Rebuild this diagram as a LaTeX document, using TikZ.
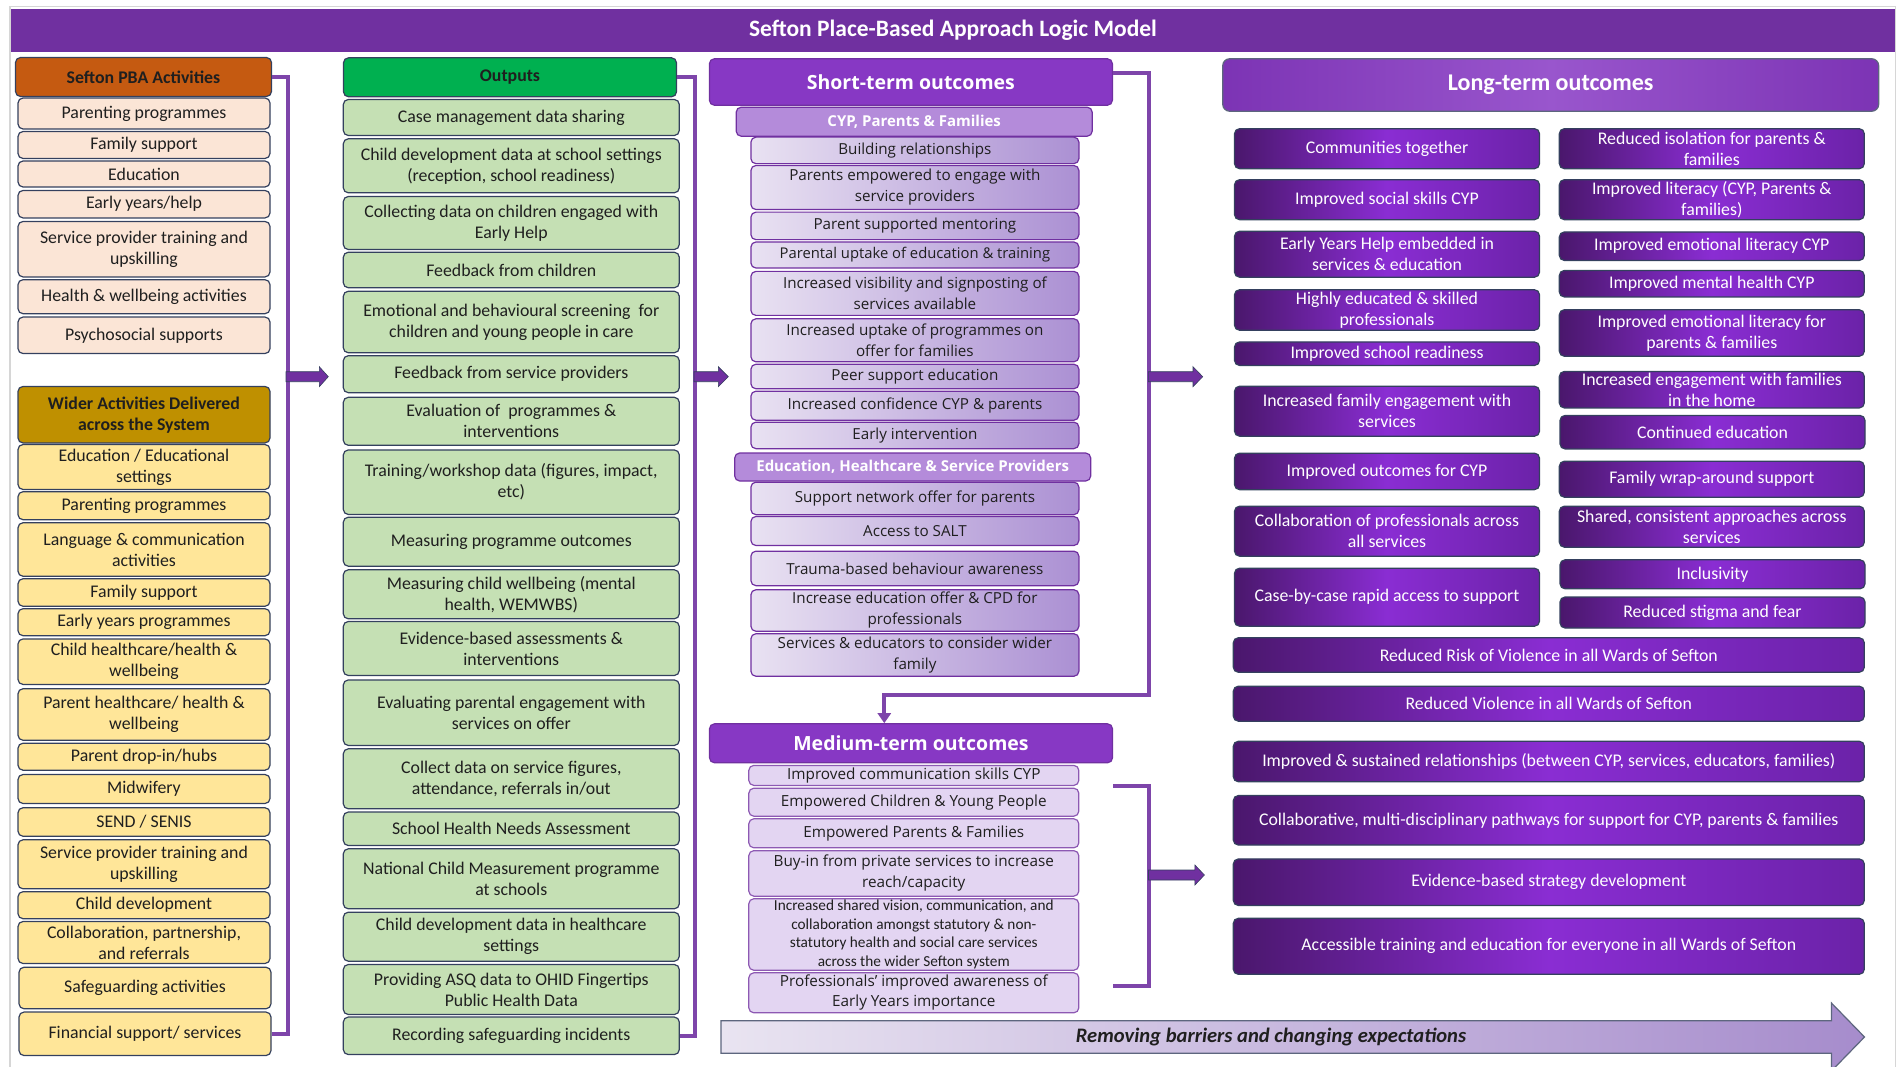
\documentclass[tikz,border=0pt]{standalone}
\usepackage{fontspec}
\setmainfont{Carlito}
\newfontfamily\segoe{Open Sans}
\usepackage{xcolor}
\usepackage{tikz}
\usetikzlibrary{calc}
\usetikzlibrary{arrows.meta}
\definecolor{PurpleSefton}{HTML}{7030A0}
\definecolor{LineSefton}{HTML}{34405E}
\definecolor{FrameSefton}{HTML}{D6D6D6}
\definecolor{OrangeSefton}{HTML}{C55A11}
\definecolor{PeachSefton}{HTML}{FBE5D6}
\definecolor{GoldSefton}{HTML}{BF9000}
\definecolor{SandSefton}{HTML}{FFE699}
\definecolor{GreenSefton}{HTML}{00B050}
\definecolor{MintSefton}{HTML}{C5E0B4}
\definecolor{VioletSefton}{HTML}{8738C4}
\definecolor{LilacSefton}{HTML}{B48BDA}
\definecolor{PaleSefton}{HTML}{E9E2F2}
\definecolor{MauveSefton}{HTML}{AB90D3}
\definecolor{LavenderSefton}{HTML}{E3D5F2}
\definecolor{PlumSefton}{HTML}{4A176C}
\definecolor{BrightSefton}{HTML}{8A2DD3}
\definecolor{GrapeSefton}{HTML}{6B22A8}
\definecolor{ArrowLeft}{HTML}{E9E4F1}
\definecolor{ArrowRight}{HTML}{A68CCC}

\begin{document}
\begin{tikzpicture}[x = 1pt, y = -1pt,
  box/.style = {draw = LineSefton, line width = 1.2pt, rounded corners = 5pt,
    inner sep = 0pt, align = center, text = black!88,
    font = \fontsize{17.8}{21}\selectfont},
  actbox/.style = {box, fill = PeachSefton, minimum width = 252pt},
  widebox/.style = {box, fill = SandSefton, minimum width = 252pt},
  outbox/.style = {box, fill = MintSefton, minimum width = 336pt},
  stbox/.style = {box, draw = PurpleSefton, left color = PaleSefton,
    right color = MauveSefton, minimum width = 328pt,
    font = \segoe\fontsize{15.2}{21}\selectfont},
  mdbox/.style = {box, draw = PurpleSefton!80, fill = LavenderSefton,
    minimum width = 330pt, font = \segoe\fontsize{15.3}{21}\selectfont},
  ltbox/.style = {box, text = white, left color = PlumSefton,
    right color = GrapeSefton, middle color = BrightSefton},
  headbox/.style = {box, font = \bfseries\fontsize{17.8}{21}\selectfont},
  purplehead/.style = {box, draw = PurpleSefton, fill = VioletSefton,
    text = white, font = \segoe\bfseries\fontsize{19.5}{23}\selectfont},
  subhead/.style = {box, draw = PurpleSefton, fill = LilacSefton,
    text = white, font = \segoe\bfseries\fontsize{15}{18}\selectfont},
  brackline/.style = {draw = PurpleSefton!90!white, line width = 4pt},
  blockarrow/.style = {fill = PurpleSefton, draw = LineSefton, line width = .6pt}]

  \useasboundingbox (0,0) rectangle (1901,1067);

  \draw[FrameSefton, line width = 1.5pt] (9.8,1075) |- (1895.3,6.7) -- (1895.3,1075);

  \node[fill = PurpleSefton, minimum width = 1884pt, minimum height = 42.4pt,
    inner sep = 0pt, text = white, font = \bfseries\fontsize{23.5}{27}\selectfont]
    (title) at (953,30.5) {Sefton Place-Based Approach Logic Model};

  \node[headbox, fill = OrangeSefton, minimum width = 256pt, minimum height = 39pt] (a0) at (143.5,77) {Sefton PBA Activities};
  \node[actbox, minimum height = 31pt] (a1) at (144,113.5) {Parenting programmes};
  \node[actbox, minimum height = 27pt] (a2) at (144,145) {Family support};
  \node[actbox, minimum height = 26pt] (a3) at (144,174) {Education};
  \node[actbox, minimum height = 27.5pt] (a4) at (144,204.2) {Early years/help};
  \node[actbox, minimum height = 55.5pt] (a5) at (144,249.2) {Service provider training and\\upskilling};
  \node[actbox, minimum height = 34pt] (a6) at (144,296.7) {Health \& wellbeing activities};
  \node[actbox, minimum height = 36.5pt] (a7) at (144,335.3) {Psychosocial supports};

  \node[headbox, fill = GoldSefton, minimum width = 252pt, minimum height = 56.5pt] (w0) at (144,414.7) {Wider Activities Delivered\\across the System};
  \node[widebox, minimum height = 45pt] (w1) at (144,467) {Education / Educational\\settings};
  \node[widebox, minimum height = 28pt] (w2) at (144,505.7) {Parenting programmes};
  \node[widebox, minimum height = 53.5pt] (w3) at (144,549.5) {Language \& communication\\activities};
  \node[widebox, minimum height = 27.5pt] (w4) at (144,592.5) {Family support};
  \node[widebox, minimum height = 27pt] (w5) at (144,622.2) {Early years programmes};
  \node[widebox, minimum height = 45.5pt] (w6) at (144,661.7) {Child healthcare/health \&\\wellbeing};
  \node[widebox, minimum height = 51.5pt] (w7) at (144,714.5) {Parent healthcare/ health \&\\wellbeing};
  \node[widebox, minimum height = 27pt] (w8) at (144,756.7) {Parent drop-in/hubs};
  \node[widebox, minimum height = 29pt] (w9) at (144,789) {Midwifery};
  \node[widebox, minimum height = 28.5pt] (w10) at (144,822) {SEND / SENIS};
  \node[widebox, minimum height = 49pt] (w11) at (144,864.3) {Service provider training and\\upskilling};
  \node[widebox, minimum height = 27pt] (w12) at (144,905.2) {Child development};
  \node[widebox, minimum height = 42pt] (w13) at (144,942.5) {Collaboration, partnership,\\and referrals};
  \node[widebox, minimum height = 41.5pt] (w14) at (145,988) {Safeguarding activities};
  \node[widebox, minimum height = 43.5pt] (w15) at (145,1033.8) {Financial support/ services};

  \node[headbox, fill = GreenSefton, minimum width = 333pt, minimum height = 39pt] (o0) at (510,77.3) {Outputs};
  \node[outbox, minimum height = 36pt] (o1) at (511.3,117.5) {Case management data sharing};
  \node[outbox, minimum height = 54pt] (o2) at (511.3,165.8) {Child development data at school settings\\(reception, school readiness)};
  \node[outbox, minimum height = 53pt] (o3) at (511.3,223) {Collecting data on children engaged with\\Early Help};
  \node[outbox, minimum height = 35.5pt] (o4) at (511.3,270) {Feedback from children};
  \node[outbox, minimum height = 61.5pt] (o5) at (511.3,322) {Emotional and behavioural screening ~for\\children and young people in care};
  \node[outbox, minimum height = 37pt] (o6) at (511.3,374.2) {Feedback from service providers};
  \node[outbox, minimum height = 48pt] (o7) at (511.3,421.3) {Evaluation of ~programmes \&\\interventions};
  \node[outbox, minimum height = 64.5pt] (o8) at (511.3,482.2) {Training/workshop data (figures, impact,\\etc)};
  \node[outbox, minimum height = 49pt] (o9) at (511.3,541.7) {Measuring programme outcomes};
  \node[outbox, minimum height = 49pt] (o10) at (511.3,594.3) {Measuring child wellbeing (mental\\health, WEMWBS)};
  \node[outbox, minimum height = 54pt] (o11) at (511.3,648.5) {Evidence-based assessments \&\\interventions};
  \node[outbox, minimum height = 65.5pt] (o12) at (511.3,712.7) {Evaluating parental engagement with\\services on offer};
  \node[outbox, minimum height = 60pt] (o13) at (511.3,778.8) {Collect data on service figures,\\attendance, referrals in/out};
  \node[outbox, minimum height = 33.5pt] (o14) at (511.3,828.8) {School Health Needs Assessment};
  \node[outbox, minimum height = 60pt] (o15) at (511.3,878.8) {National Child Measurement programme\\at schools};
  \node[outbox, minimum height = 49pt] (o16) at (511.3,936.7) {Child development data in healthcare\\settings};
  \node[outbox, minimum height = 50pt] (o17) at (511.3,989.5) {Providing ASQ data to OHID Fingertips\\Public Health Data};
  \node[outbox, minimum height = 37.5pt] (o18) at (511.3,1035.8) {Recording safeguarding incidents};

  \node[purplehead, minimum width = 403pt, minimum height = 46.5pt] (sthead) at (910.9,82) {Short-term outcomes};
  \node[subhead, minimum width = 356pt, minimum height = 29pt] (s0) at (914.2,121.7) {CYP, Parents \& Families};
  \node[stbox, minimum height = 26.5pt] (s1) at (914.9,150.4) {Building relationships};
  \node[stbox, minimum height = 44pt] (s2) at (914.9,187.5) {Parents empowered to engage with\\service providers};
  \node[stbox, minimum height = 27.5pt] (s3) at (914.9,225.9) {Parent supported mentoring};
  \node[stbox, minimum height = 26pt, font = \segoe\fontsize{14.8}{21}\selectfont] (s4) at (914.9,255) {Parental uptake of education \& training};
  \node[stbox, minimum height = 44pt] (s5) at (914.9,293.4) {Increased visibility and signposting of\\services available};
  \node[stbox, minimum height = 43pt] (s6) at (914.9,340.3) {Increased uptake of programmes on\\offer for families};
  \node[stbox, minimum height = 24.5pt] (s7) at (914.9,376.5) {Peer support education};
  \node[stbox, minimum height = 29pt] (s8) at (914.9,405.7) {Increased confidence CYP \& parents};
  \node[stbox, minimum height = 26.5pt] (s9) at (914.9,435.4) {Early intervention};
  \node[subhead, minimum width = 356pt, minimum height = 28pt] (e0) at (912.7,467) {Education, Healthcare \& Service Providers};
  \node[stbox, minimum height = 32.5pt] (e1) at (914.9,498.4) {Support network offer for parents};
  \node[stbox, minimum height = 29pt] (e2) at (914.9,531) {Access to SALT};
  \node[stbox, minimum height = 34.5pt] (e3) at (914.9,568.4) {Trauma-based behaviour awareness};
  \node[stbox, minimum height = 41.5pt] (e4) at (914.9,610.5) {Increase education offer \& CPD for\\professionals};
  \node[stbox, minimum height = 42.5pt] (e5) at (914.9,655) {Services \& educators to consider wider\\family};

  \node[purplehead, minimum width = 403pt, minimum height = 39pt] (mdhead) at (911,743.3) {Medium-term outcomes};
  \node[mdbox, minimum height = 20pt] (m1) at (913.8,775.4) {Improved communication skills CYP};
  \node[mdbox, minimum height = 28pt] (m2) at (913.8,802.2) {Empowered Children \& Young People};
  \node[mdbox, minimum height = 29pt] (m3) at (913.8,833.3) {Empowered Parents \& Families};
  \node[mdbox, minimum height = 45.5pt] (m4) at (913.8,873.4) {Buy-in from private services to increase\\reach/capacity};
  \node[mdbox, minimum height = 71.5pt, font = \fontsize{15.3}{18.5}\selectfont] (m5) at (913.8,934.5) {Increased shared vision, communication, and\\collaboration amongst statutory \& non-\\statutory health and social care services\\across the wider Sefton system};
  \node[mdbox, minimum height = 40pt, font = \segoe\fontsize{15.3}{20}\selectfont] (m6) at (913.8,992.8) {Professionals’ improved awareness of\\Early Years importance};

  \node[box, draw = LineSefton!80, left color = VioletSefton!92!black, right color = VioletSefton!92!black, middle color = VioletSefton!85!white, text = white, minimum width = 656pt, minimum height = 52.5pt, rounded corners = 7pt, font = \bfseries\fontsize{24}{28}\selectfont] (lthead) at (1550.7,85) {Long-term outcomes};
  \node[ltbox, minimum width = 305pt, minimum height = 40pt] (l1) at (1387,148.7) {Communities together};
  \node[ltbox, minimum width = 305pt, minimum height = 40pt] (l2) at (1387,199.7) {Improved social skills CYP};
  \node[ltbox, minimum width = 305pt, minimum height = 46pt] (l3) at (1387,254.2) {Early Years Help embedded in\\services \& education};
  \node[ltbox, minimum width = 305pt, minimum height = 40.5pt] (l4) at (1387,310) {Highly educated \& skilled\\professionals};
  \node[ltbox, minimum width = 305pt, minimum height = 23.5pt] (l5) at (1387,353.7) {Improved school readiness};
  \node[ltbox, minimum width = 305pt, minimum height = 50pt] (l6) at (1387,411.2) {Increased family engagement with\\services};
  \node[ltbox, minimum width = 305pt, minimum height = 36.5pt] (l7) at (1387,471.4) {Improved outcomes for CYP};
  \node[ltbox, minimum width = 305pt, minimum height = 50pt] (l8) at (1387,531.2) {Collaboration of professionals across\\all services};
  \node[ltbox, minimum width = 305pt, minimum height = 58pt] (l9) at (1387,597.2) {Case-by-case rapid access to support};
  \node[ltbox, minimum width = 305pt, minimum height = 40pt] (r1) at (1711.8,148.7) {Reduced isolation for parents \&\\families};
  \node[ltbox, minimum width = 305pt, minimum height = 40pt] (r2) at (1711.8,199.7) {Improved literacy (CYP, Parents \&\\families)};
  \node[ltbox, minimum width = 305pt, minimum height = 28.5pt] (r3) at (1711.8,246.2) {Improved emotional literacy CYP};
  \node[ltbox, minimum width = 305pt, minimum height = 26.5pt] (r4) at (1711.8,283.7) {Improved mental health CYP};
  \node[ltbox, minimum width = 305pt, minimum height = 46.5pt] (r5) at (1711.8,333) {Improved emotional literacy for\\parents \& families};
  \node[ltbox, minimum width = 305pt, minimum height = 36.5pt] (r6) at (1711.8,389.7) {Increased engagement with families\\in the home};
  \node[ltbox, minimum width = 305pt, minimum height = 33.5pt] (r7) at (1712.5,432.2) {Continued education};
  \node[ltbox, minimum width = 305pt, minimum height = 36pt] (r8) at (1711.8,479.2) {Family wrap-around support};
  \node[ltbox, minimum width = 305pt, minimum height = 41pt] (r9) at (1711.8,526.7) {Shared, consistent approaches across\\services};
  \node[ltbox, minimum width = 305pt, minimum height = 29pt] (r10) at (1712.5,574.3) {Inclusivity};
  \node[ltbox, minimum width = 305pt, minimum height = 31pt] (r11) at (1712.5,612.5) {Reduced stigma and fear};
  \node[ltbox, minimum width = 631pt, minimum height = 34.5pt] (f1) at (1548.8,655) {Reduced Risk of Violence in all Wards of Sefton};
  \node[ltbox, minimum width = 631pt, minimum height = 35pt] (f2) at (1548.8,703.7) {Reduced Violence in all Wards of Sefton};
  \node[ltbox, minimum width = 631pt, minimum height = 40.5pt] (f3) at (1548.8,761.5) {Improved \& sustained relationships (between CYP, services, educators, families)};
  \node[ltbox, minimum width = 631pt, minimum height = 49.5pt] (f4) at (1548.8,820.3) {Collaborative, multi-disciplinary pathways for support for CYP, parents \& families};
  \node[ltbox, minimum width = 631pt, minimum height = 46.5pt] (f5) at (1548.8,882.2) {Evidence-based strategy development};
  \node[ltbox, minimum width = 631pt, minimum height = 56pt] (f6) at (1548.8,946.3) {Accessible training and education for everyone in all Wards of Sefton};

  \draw[brackline] (a0.east) -- ++(16,0) |- (w15.east);
  \draw[brackline] (o0.east) -- ++(17.5,0) |- (o18.east);
  \draw[brackline, -{Triangle[width = 13pt, length = 10pt]}]
    ([yshift = 9pt]sthead.east) -- ++(35.6,0) -- ++(0,622) -| ([xshift = -26.7pt]mdhead.north);

  \coordinate (mt) at (1113,785.7);
  \coordinate (mb) at (1113,985.7);
  \draw[brackline] (mt) -- ++(35.5,0) |- (mb);

  \coordinate (p1) at (286,376.7);
  \coordinate (p2) at (694,376.7);
  \coordinate (p3) at (1148.3,376.7);
  \coordinate (p4) at (1148.5,875);

  \filldraw[blockarrow] ($(p1)+(0,-5)$) -- ++(33.3,0) -- ++(0,-5) -- ++(9,10) -- ++(-9,10) -- ++(0,-5) -- ++(-33.3,0) -- cycle;
  \filldraw[blockarrow] ($(p2)+(0,-5)$) -- ++(24.3,0) -- ++(0,-5) -- ++(10,10) -- ++(-10,10) -- ++(0,-5) -- ++(-24.3,0) -- cycle;
  \filldraw[blockarrow] ($(p3)+(0,-5)$) -- ++(44.7,0) -- ++(0,-5) -- ++(9.7,10) -- ++(-9.7,10) -- ++(0,-5) -- ++(-44.7,0) -- cycle;
  \filldraw[blockarrow] ($(p4)+(0,-5)$) -- ++(46.4,0) -- ++(0,-5) -- ++(9.5,10) -- ++(-9.5,10) -- ++(0,-5) -- ++(-46.4,0) -- cycle;

  \shadedraw[left color = ArrowLeft, right color = ArrowRight, draw = LineSefton!80, line width = 1.2pt]
    (721,1020.7) -- (1831.4,1020.7) -- (1831.4,1003) -- (1864.5,1037)
    -- (1831.4,1071) -- (1831.4,1053.3) -- (721,1053.3) -- cycle;
  \node[text = black!88, font = \bfseries\itshape\fontsize{20.6}{24}\selectfont]
    (barrier) at (1271,1037) {Removing barriers and changing expectations};
\end{tikzpicture}
\end{document}
